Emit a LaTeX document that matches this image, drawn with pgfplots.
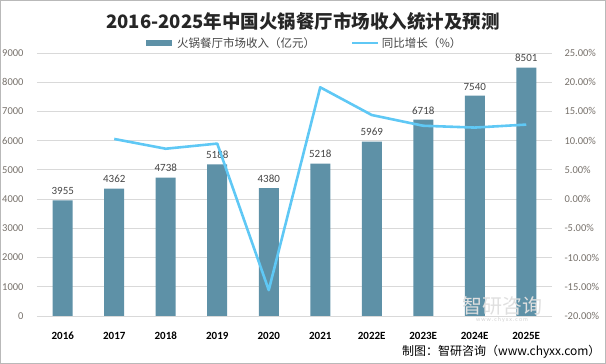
\documentclass[border=0pt]{standalone}
\usepackage{pgfplots}
\pgfplotsset{compat=1.18}
\usepackage{fontspec}
\setmainfont{Carlito}
\newfontfamily\cjk{Noto Sans CJK SC}
\definecolor{barc}{RGB}{94,145,167}
\definecolor{linec}{RGB}{95,200,245}
\definecolor{tickc}{RGB}{118,112,106}
\definecolor{labc}{RGB}{70,70,70}
\definecolor{gridc}{RGB}{217,217,217}
\begin{document}
\begin{tikzpicture}[x=1pt,y=1pt]
\path[draw=gray!55,line width=1pt] (-36.5,-47.5) rectangle (568.5,315.5);
\begin{axis}[
  at={(0,0)},anchor=south west,
  scale only axis,width=515pt,height=263pt,
  xmin=-0.5,xmax=9.5,ymin=0,ymax=9000,
  enlargelimits=false,clip=false,
  axis line style={draw=none},
  ymajorgrids,grid style={gridc,line width=0.8pt},
  xtick={0,...,9},
  xticklabels={2016,2017,2018,2019,2020,2021,2022E,2023E,2024E,2025E},
  ytick={0,1000,...,9000},
  tick style={draw=none},
  xticklabel style={font=\fontsize{11}{12}\selectfont\bfseries,color=black,yshift=-8pt},
  yticklabel style={font=\fontsize{10.5}{12}\selectfont,color=tickc,xshift=-10pt},
  /pgf/number format/assume math mode=true,
  /pgf/number format/1000 sep={},
  ybar,bar width=20pt,
  nodes near coords,
  nodes near coords style={font=\fontsize{11}{12}\selectfont,color=labc,/pgf/number format/1000 sep={},yshift=2pt},
]
\addplot[fill=barc,draw=none] coordinates {
(0,3955) (1,4362) (2,4738) (3,5188) (4,4380) (5,5218) (6,5969) (7,6718) (8,7540) (9,8501)};
\end{axis}
\begin{axis}[
  at={(0,0)},anchor=south west,
  scale only axis,width=515pt,height=263pt,
  xmin=-0.5,xmax=9.5,ymin=-20,ymax=25,
  enlargelimits=false,clip=false,
  axis line style={draw=none},
  xtick=\empty,
  ytick={-20,-15,...,25},
  yticklabels={-20.00\%,-15.00\%,-10.00\%,-5.00\%,0.00\%,5.00\%,10.00\%,15.00\%,20.00\%,25.00\%},
  yticklabel pos=right,
  tick style={draw=none},
  yticklabel style={font=\fontsize{10.5}{12}\selectfont,color=tickc,anchor=west,xshift=9pt},
  legend style={at={(0.517,1)},anchor=south,yshift=0pt,draw=none,fill=none,
    font=\cjk\fontsize{11.5}{13}\selectfont,text=labc,
    /tikz/every even column/.append style={column sep=34pt}},
  legend columns=2,
  legend image code/.code={\draw[#1] (0pt,0pt) -- (26pt,0pt);},
]
\addlegendimage{line width=6pt,barc}
\addlegendentry{火锅餐厅市场收入（亿元）}
\addplot[linec,line width=2.6pt,line join=round] coordinates {
(1,10.29) (2,8.62) (3,9.50) (4,-15.57) (5,19.13) (6,14.39) (7,12.55) (8,12.24) (9,12.75)};
\addlegendentry{同比增长（\%）}
\end{axis}
\node[font=\cjk\bfseries\fontsize{18.5}{22}\selectfont,color=black!85] at (266,295) {2016-2025年中国火锅餐厅市场收入统计及预测};
\node[font=\cjk\fontsize{20}{22}\selectfont,color=gray!25,anchor=center] at (465,10) {智研咨询};
\node[font=\fontsize{6}{7}\selectfont,color=gray!35] at (465,-4) {w\,w\,w\,.\,c\,h\,y\,x\,x\,.\,c\,o\,m};
\node[font=\cjk\fontsize{12}{14}\selectfont,color=black,anchor=east] at (567,-36) {制图：智研咨询（www.chyxx.com）};
\pgfresetboundingbox
\path (-37,-48) rectangle (569,316);
\end{tikzpicture}
\end{document}
